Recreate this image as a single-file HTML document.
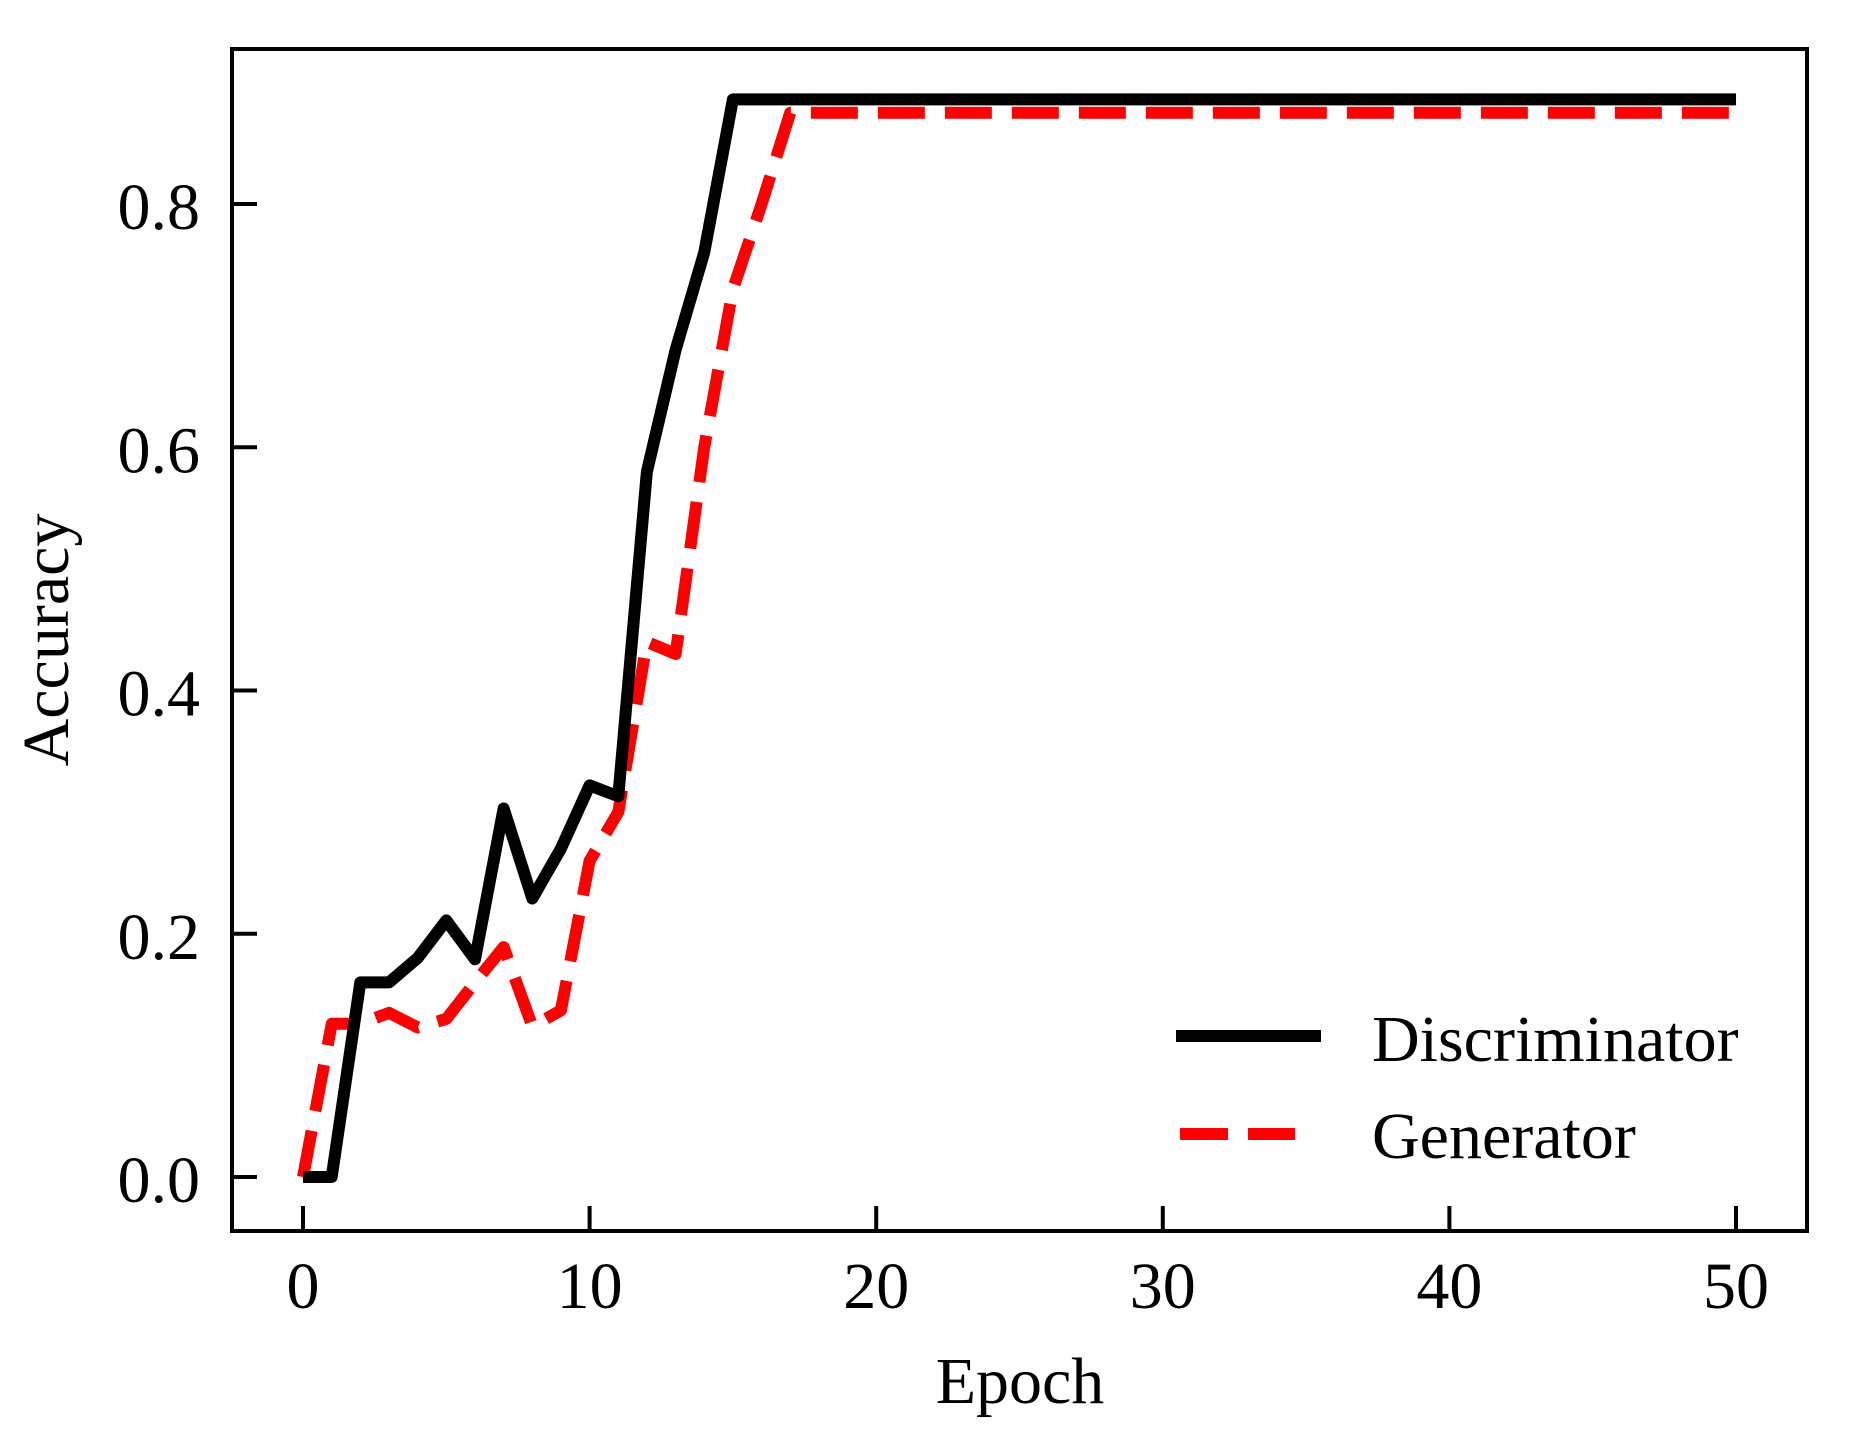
<!DOCTYPE html>
<html><head><meta charset="utf-8"><style>
html,body{margin:0;padding:0;background:#fff;}
svg{display:block;}
text{font-family:"Liberation Serif",serif;font-size:66px;fill:#000;}
</style></head><body>
<svg id="chart" width="1855" height="1441" viewBox="0 0 1855 1441" xmlns="http://www.w3.org/2000/svg">
<g id="plot"></g>
</svg>
<script>
const epochs = [0,1,2,3,4,5,6,7,8,9,10,11,12,13,14,15,16,17,18,19,20,21,22,23,24,25,26,27,28,29,30,31,32,33,34,35,36,37,38,39,40,41,42,43,44,45,46,47,48,49,50];
const discValues = [0,0,0.16,0.16,0.18,0.211,0.179,0.303,0.229,0.27,0.322,0.313,0.58,0.68,0.76,0.886,0.886,0.886,0.886,0.886,0.886,0.886,0.886,0.886,0.886,0.886,0.886,0.886,0.886,0.886,0.886,0.886,0.886,0.886,0.886,0.886,0.886,0.886,0.886,0.886,0.886,0.886,0.886,0.886,0.886,0.886,0.886,0.886,0.886,0.886,0.886];
const genValues = [0,0.126,0.126,0.135,0.123,0.13,0.16,0.189,0.124,0.137,0.26,0.30,0.44,0.43,0.60,0.73,0.80,0.875,0.875,0.875,0.875,0.875,0.875,0.875,0.875,0.875,0.875,0.875,0.875,0.875,0.875,0.875,0.875,0.875,0.875,0.875,0.875,0.875,0.875,0.875,0.875,0.875,0.875,0.875,0.875,0.875,0.875,0.875,0.875,0.875,0.875];
const xTicks = [0,10,20,30,40,50];
const yTicks = [0.0,0.2,0.4,0.6,0.8];
const yTickLabels = ["0.0","0.2","0.4","0.6","0.8"];

const NS = "http://www.w3.org/2000/svg";
const X0 = 303, XPER = (1736-303)/50;
const Y0 = 1177, YPER = (1177-204)/0.8;
function xs(v){return X0 + v*XPER;}
function ys(v){return Y0 - v*YPER;}
const g = document.getElementById('plot');
function mk(tag, attrs){const e=document.createElementNS(NS,tag);for(const k in attrs)e.setAttribute(k,attrs[k]);g.appendChild(e);return e;}

function pts(vals){return epochs.map((e,i)=>xs(e).toFixed(1)+','+ys(vals[i]).toFixed(1)).join(' ');}
const gen = mk('polyline',{points:pts(genValues),fill:'none',stroke:'#ff0000','stroke-width':12,'stroke-dasharray':'47 20','stroke-linejoin':'round'});


const disc = mk('polyline',{points:pts(discValues),fill:'none',stroke:'#000','stroke-width':12,'stroke-linejoin':'round'});



const frame = mk('rect',{x:232,y:49,width:1807-232,height:1231-49,fill:'none',stroke:'#000','stroke-width':4});



xTicks.forEach(t=>{
  const l = mk('line',{x1:xs(t),x2:xs(t),y1:1231,y2:1206,stroke:'#000','stroke-width':4});
  
  
  const tx = mk('text',{x:xs(t),y:1308,'text-anchor':'middle'});
  tx.textContent = String(t);
  
  
});
yTicks.forEach((t,i)=>{
  const l = mk('line',{x1:232,x2:257,y1:ys(t),y2:ys(t),stroke:'#000','stroke-width':4});
  
  
  const tx = mk('text',{x:200,y:ys(t)+25,'text-anchor':'end'});
  tx.textContent = yTickLabels[i];
  
  
});

const xt = mk('text',{x:1020,y:1403,'text-anchor':'middle'});
xt.textContent = 'Epoch';


const yt = mk('text',{x:0,y:0,'text-anchor':'middle',transform:'translate(68,640) rotate(-90)'});
yt.textContent = 'Accuracy';



const l1 = mk('line',{x1:1176,x2:1321,y1:1036,y2:1036,stroke:'#000','stroke-width':12});


const t1 = mk('text',{x:1372,y:1061});
t1.textContent = 'Discriminator';


const l2 = mk('line',{x1:1180,x2:1295,y1:1134,y2:1134,stroke:'#ff0000','stroke-width':12,'stroke-dasharray':'48 20'});


const t2 = mk('text',{x:1372,y:1158});
t2.textContent = 'Generator';


</script>
</body></html>
